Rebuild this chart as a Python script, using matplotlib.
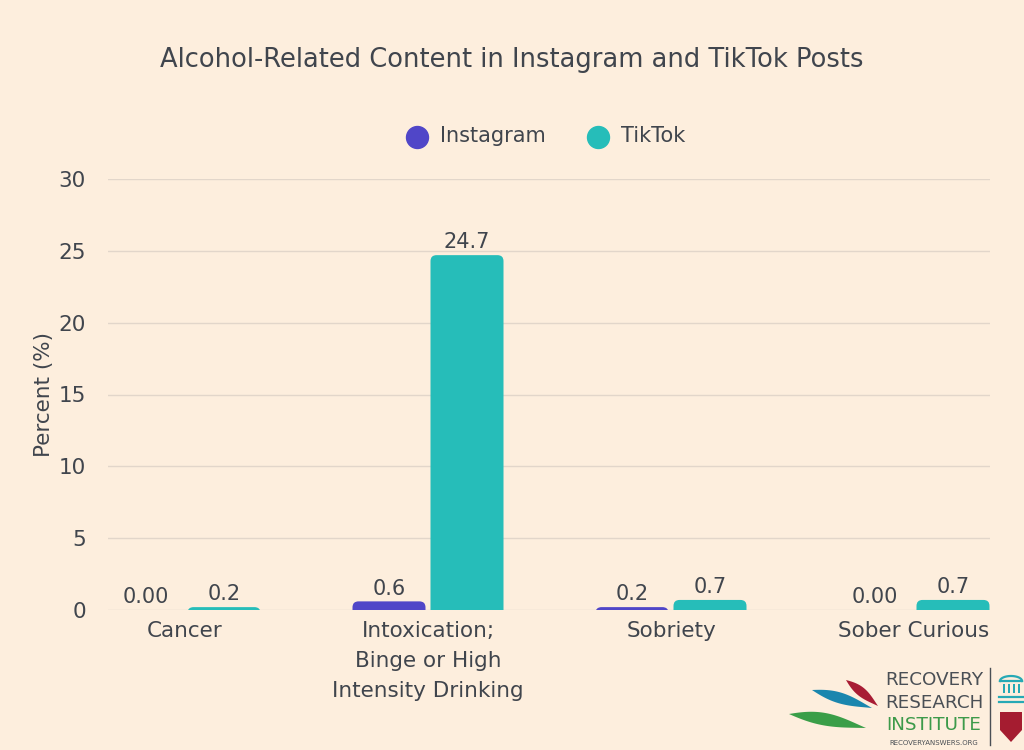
import numpy as np
import matplotlib.pyplot as plt
from matplotlib.patches import FancyBboxPatch, Polygon, Rectangle

categories = ["Cancer", "Intoxication;\nBinge or High\nIntensity Drinking", "Sobriety", "Sober Curious"]
instagram = [0.0, 0.6, 0.2, 0.0]
tiktok = [0.2, 24.7, 0.7, 0.7]
instagram_labels = ["0.00", "0.6", "0.2", "0.00"]
tiktok_labels = ["0.2", "24.7", "0.7", "0.7"]

BG = "#FDEEDD"
TXT = "#40454D"
PURPLE = "#5046C8"
TEAL = "#26BDB9"
GRID = "#E2D6CA"

plt.rcParams['font.family'] = ['DejaVu Sans']

fig = plt.figure(figsize=(10.24, 7.5), dpi=100, facecolor=BG)
ax = fig.add_axes([108/1024, 1-610/750, 882/1024, 431/750], facecolor=BG)

x = np.arange(len(categories))
xl = (108-185)/243
xr = (990-185)/243
ax.set_xlim(xl, xr)
ax.set_ylim(0, 30)

bw = 73/243
off = 39/243
# rounded bar tops: x units per px vs y units per px
aspect = (30/431) / (1/243)
rad = 6/243

def rbar(xc, h, color):
    p = FancyBboxPatch((xc - bw/2, -1.2), bw, h + 1.2,
                       boxstyle="round,pad=0,rounding_size=%f" % rad,
                       mutation_aspect=aspect, fc=color, ec="none", zorder=3)
    ax.add_patch(p)

for i in range(len(categories)):
    if instagram[i] > 0:
        rbar(x[i] - off, instagram[i], PURPLE)
    rbar(x[i] + off, tiktok[i], TEAL)
    ax.annotate(instagram_labels[i], (x[i] - off, instagram[i]), xytext=(0, 2),
                textcoords="offset points", ha="center", va="bottom", fontsize=15, color=TXT)
    ax.annotate(tiktok_labels[i], (x[i] + off, tiktok[i]), xytext=(0, 2),
                textcoords="offset points", ha="center", va="bottom", fontsize=15, color=TXT)

ax.set_yticks(range(0, 31, 5))
ax.yaxis.grid(True, color=GRID, lw=1)
ax.set_axisbelow(True)
for s in ax.spines.values():
    s.set_visible(False)
ax.tick_params(axis="y", length=0, labelsize=15.5, labelcolor=TXT, pad=16)
ax.set_xticks(x)
ax.set_xticklabels(categories, fontsize=15.5, color=TXT, linespacing=1.62)
ax.tick_params(axis="x", length=0, pad=8)
ax.set_ylabel("Percent (%)", fontsize=15.5, color=TXT, labelpad=3)

fig.text(512/1024, 1-60/750, "Alcohol-Related Content in Instagram and TikTok Posts",
         ha="center", va="center", fontsize=18.5, color=TXT)

# legend
h1 = ax.scatter([], [], s=250, color=PURPLE, label="Instagram")
h2 = ax.scatter([], [], s=250, color=TEAL, label="TikTok")
fig.legend(handles=[h1, h2], loc="center", bbox_to_anchor=(541/1024, 1-136/750), ncol=2,
           frameon=False, fontsize=15, labelcolor=TXT, handletextpad=0.1, columnspacing=1.5,
           scatterpoints=1)

# logo
lg = fig.add_axes([0, 0, 1, 1], facecolor="none")
lg.set_xlim(0, 1024)
lg.set_ylim(750, 0)
lg.axis("off")

def leaf(x0, y0, x1, y1, b1, b2, color):
    t = np.linspace(0, 1, 40)
    dx, dy = x1 - x0, y1 - y0
    L = np.hypot(dx, dy)
    nx, ny = -dy / L, dx / L
    s = np.sin(np.pi * t) * (1 - 0.35 * t)
    top = np.c_[x0 + dx*t + nx*b1*s, y0 + dy*t + ny*b1*s]
    bot = np.c_[x0 + dx*t - nx*b2*s, y0 + dy*t - ny*b2*s][::-1]
    lg.add_patch(Polygon(np.vstack([top, bot]), closed=True, fc=color, ec="none"))

leaf(812, 690, 872, 708, 6, 7, "#1A86AE")
leaf(846, 680, 878, 706, 5, 6, "#A81C34")
leaf(789, 714, 866, 728, 6, 9, "#3A9E48")

lg.text(934, 680, "RECOVERY", ha="center", va="center", fontsize=13.2, color="#4A4F55")
lg.text(934, 703, "RESEARCH", ha="center", va="center", fontsize=13.2, color="#4A4F55")
lg.text(934, 725, "INSTITUTE", ha="center", va="center", fontsize=13.2, color="#3D9A4A")
lg.text(934, 743, "RECOVERYANSWERS.ORG", ha="center", va="center", fontsize=5, color="#4A4F55")
lg.plot([990, 990], [668, 745], color="#4A4F55", lw=1)

# building icon
t = np.linspace(0, np.pi, 30)
lg.plot(1011 + 11*np.cos(t), 681 - 5*np.sin(t), color="#26A9B5", lw=1.6)
lg.plot([1000, 1022], [681, 681], color="#26A9B5", lw=1.6)
for cx in (1003, 1008, 1013, 1018):
    lg.add_patch(Rectangle((cx, 684), 2, 9, fc="#26A9B5", ec="none"))
lg.plot([999, 1023], [697, 697], color="#26A9B5", lw=1.6)
lg.plot([999, 1023], [702, 702], color="#26A9B5", lw=1.6)
# shield
sh = np.array([[1000, 712], [1022, 712], [1022, 730], [1011, 742], [1000, 730]])
lg.add_patch(Polygon(sh, closed=True, fc="#A51C30", ec="none"))

fig.savefig("out.png", dpi=100, facecolor=BG)
